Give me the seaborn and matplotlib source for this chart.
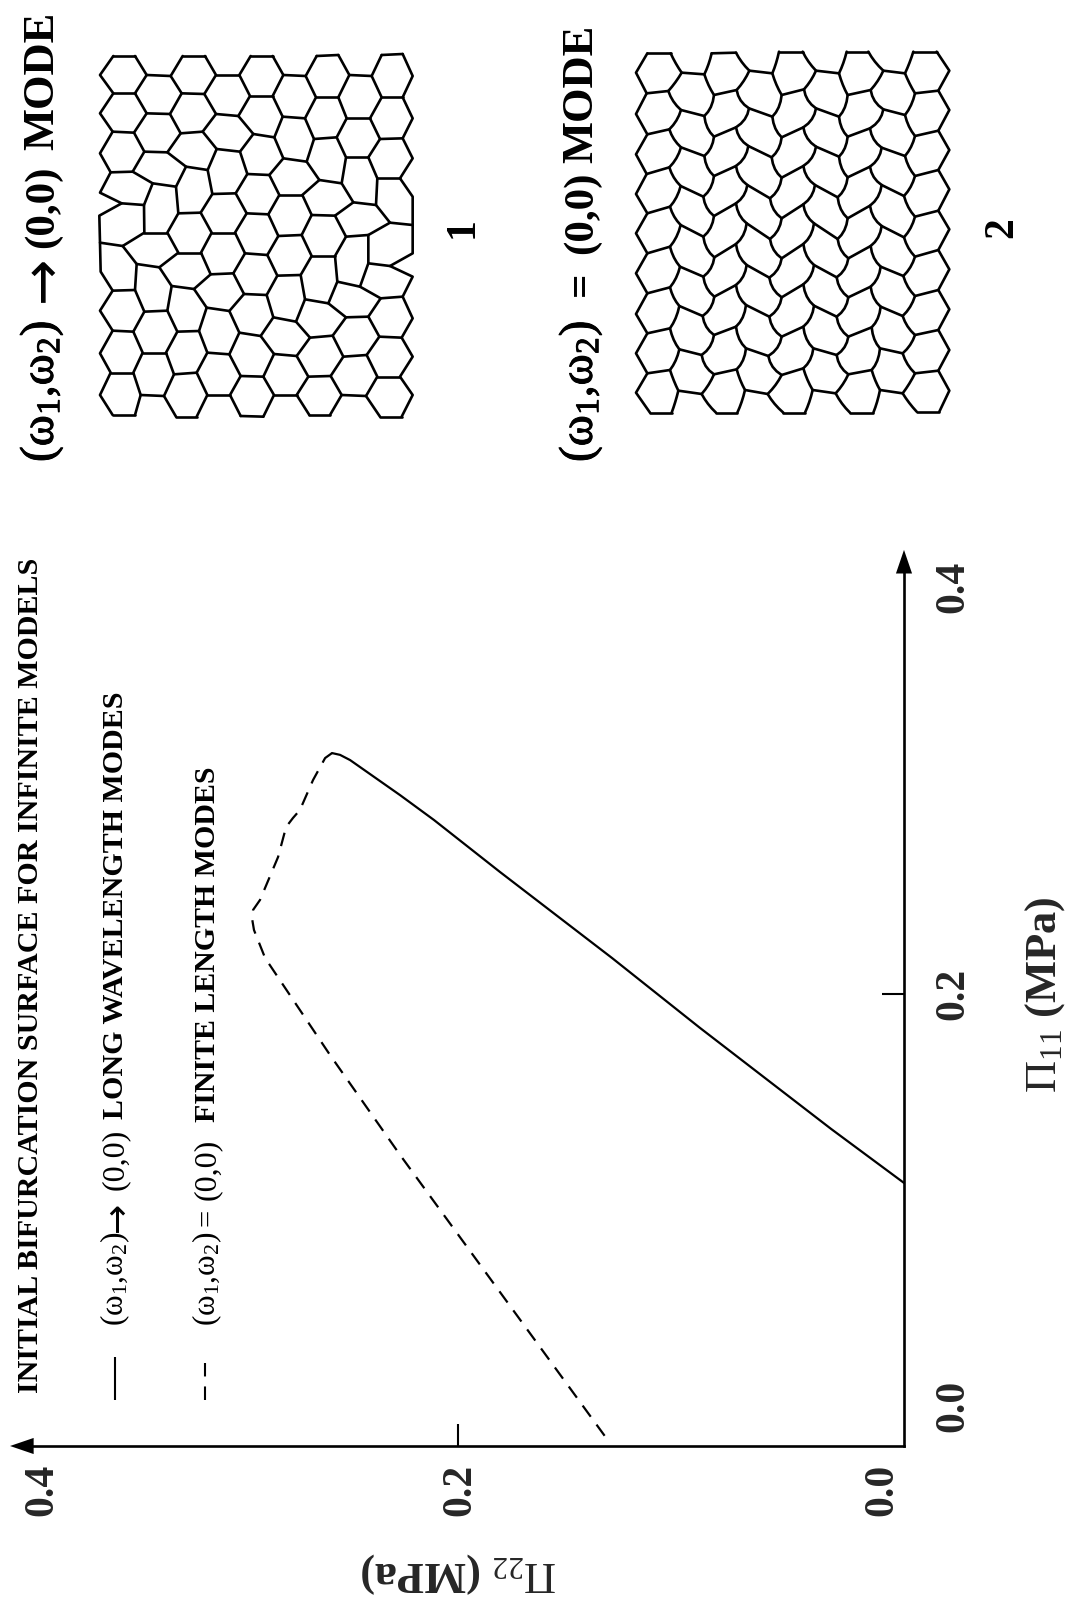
import matplotlib
matplotlib.use("Agg")
import matplotlib.pyplot as plt
import matplotlib.patheffects as pe
from matplotlib.transforms import ScaledTranslation
import numpy as np
import pandas as pd
import seaborn as sns

# ---------- curve values (MPa) ----------
solid_pi22 = [0.0000, 0.0327, 0.0915, 0.1309, 0.1812, 0.2108, 0.2260, 0.2484, 0.2529, 0.2565]
solid_pi11 = [0.1164, 0.1403, 0.1850, 0.2159, 0.2540, 0.2770, 0.2880, 0.3035, 0.3058, 0.3066]
dash_pi22 = [0.2565, 0.2596, 0.2650, 0.2709, 0.2740, 0.2771, 0.2807, 0.2888, 0.2919, 0.2924, 0.2915, 0.2865, 0.2574, 0.2260, 0.1332]
dash_pi11 = [0.3066, 0.3044, 0.2947, 0.2814, 0.2779, 0.2739, 0.2606, 0.2416, 0.2372, 0.2336, 0.2283, 0.2159, 0.1730, 0.1288, 0.0031]

axis_ticks = [0.0, 0.2, 0.4]
axis_tick_labels = ["0.0", "0.2", "0.4"]

# ---------- cell mesh: vertical zigzag chains of vertices ----------
mesh1_chains = [
 [(70,48),(30,105),(70,160),(30,220),(68,275),(30,340),(62,397),(30,458),(95,490),(28,527),(30,608),(32,695),(68,752),(30,812),(68,872),(30,940),(62,998),(30,1065),(68,1125)],
 [(135,48),(170,105),(135,160),(170,220),(132,278),(163,335),(128,395),(188,430),(162,495),(163,578),(98,618),(140,672),(135,750),(163,815),(130,875),(158,938),(130,998),(152,1065),(135,1125)],
 [(278,48),(242,108),(275,160),(240,222),(272,280),(232,337),(288,380),(258,440),(265,520),(232,578),(265,638),(208,682),(245,738),(232,812),(262,875),(228,938),(252,1003),(222,1068),(258,1130)],
 [(345,48),(378,105),(343,162),(378,222),(338,275),(380,327),(353,390),(367,462),(332,518),(365,578),(333,638),(362,703),(312,747),(350,803),(327,873),(352,938),(320,998),(352,1065),(320,1130)],
 [(482,48),(448,105),(480,168),(445,228),(490,282),(450,335),(472,402),(437,460),(470,520),(435,578),(465,640),(430,700),(462,762),(418,813),(448,878),(418,943),(452,1008),(420,1065),(452,1128)],
 [(548,48),(580,105),(548,168),(578,230),(553,292),(580,355),(538,405),(568,465),(535,523),(565,588),(532,645),(562,707),(530,765),(550,832),(512,888),(552,942),(520,1010),(552,1065),(520,1130)],
 [(680,48),(647,108),(678,172),(645,235),(672,297),(650,365),(688,420),(637,465),(665,525),(635,585),(665,648),(632,705),(645,778),(618,845),(660,893),(620,948),(655,1010),(620,1065),(658,1125)],
 [(745,45),(778,105),(745,172),(770,235),(740,292),(768,352),(755,430),(790,487),(735,527),(768,590),(735,648),(742,725),(715,790),(768,832),(728,887),(760,950),(722,1008),(755,1065),(720,1125)],
 [(875,45),(845,108),(875,172),(840,235),(870,297),(835,352),(862,415),(858,495),(900,548),(835,585),(835,670),(810,740),(872,775),(835,830),(868,890),(830,945),(862,1010),(828,1068),(870,1130)],
 [(938,42),(968,108),(938,172),(968,235),(938,295),(968,355),(930,415),(968,470),(968,555),(968,640),(900,678),(968,710),(938,770),(968,835),(935,893),(968,950),(930,1010),(968,1065),(935,1130)],
]
mesh2_chains = [
 [(112,40),(78,98),(110,160),(78,222),(112,283),(78,343),(110,402),(78,462),(112,520),(78,580),(112,640),(78,700),(112,760),(78,822),(112,880),(78,940),(112,1000),(78,1058),(120,1118)],
 [(182,40),(215,98),(175,153),(213,210),(178,268),(213,322),(178,382),(212,438),(180,500),(212,555),(180,620),(210,680),(180,742),(208,798),(180,865),(208,928),(180,990),(205,1052),(185,1118)],
 [(305,40),(283,103),(312,165),(283,228),(312,290),(283,348),(312,408),(280,470),(312,528),(280,590),(313,652),(280,710),(313,770),(278,828),(312,885),(275,945),(312,1003),(275,1062),(318,1118)],
 [(378,38),(418,92),(380,150),(417,205),(378,262),(415,318),(378,378),(412,435),(378,490),(410,550),(378,612),(410,675),(378,735),(408,795),(378,860),(408,925),(380,988),(405,1050),(382,1118)],
 [(507,35),(487,100),(515,165),(487,230),(515,292),(485,352),(515,413),(480,475),(515,535),(480,597),(515,655),(478,713),(515,772),(478,830),(515,890),(475,948),(515,1005),(473,1062),(520,1118)],
 [(578,35),(618,92),(582,148),(618,205),(580,262),(618,320),(580,378),(615,435),(580,493),(612,550),(580,612),(612,675),(580,733),(612,797),(580,860),(610,925),(580,985),(608,1050),(585,1118)],
 [(710,35),(687,100),(713,165),(687,230),(713,290),(687,350),(713,412),(683,472),(713,535),(683,597),(715,655),(680,712),(715,772),(680,830),(715,890),(680,945),(715,1003),(677,1060),(720,1118)],
 [(775,35),(820,92),(782,150),(820,208),(780,265),(815,323),(780,380),(815,435),(780,497),(815,558),(782,618),(812,680),(782,740),(812,800),(785,862),(810,925),(785,990),(810,1050),(790,1118)],
 [(910,35),(885,100),(915,160),(885,225),(915,288),(885,348),(915,408),(882,468),(915,530),(882,592),(915,650),(880,708),(915,768),(878,828),(915,885),(878,940),(915,1000),(878,1060),(920,1115)],
 [(980,35),(1018,92),(985,152),(1018,210),(985,272),(1018,330),(985,390),(1018,448),(985,512),(1018,568),(985,630),(1018,688),(985,750),(1018,808),(985,870),(1018,930),(985,992),(1018,1052),(988,1115)],
]

W, H = 1071, 1604
sns.set_theme(style="white")
plt.rcParams.update({
    "font.family": ["Liberation Serif", "DejaVu Sans"],
    "mathtext.fontset": "custom",
    "mathtext.rm": "Liberation Serif",
    "mathtext.it": "Liberation Serif:italic",
    "mathtext.bf": "Liberation Serif:bold",
    "mathtext.default": "regular",
    "axes.edgecolor": "black",
    "text.color": "black",
})

fig = plt.figure(figsize=(W / 100, H / 100), dpi=100, facecolor="white")

def rect(x0, y0, x1, y1):
    return [x0 / W, 1 - y1 / H, (x1 - x0) / W, (y1 - y0) / H]

def px(dx, dy):
    return ScaledTranslation(dx / 100, -dy / 100, fig.dpi_scale_trans)

# ---------- main chart: page x is Pi22 (reversed), page y is Pi11 ----------
ax = fig.add_axes(rect(0, 530, 904, 1446))
ax.set_xlim(0.4054, 0)
ax.set_ylim(0, 0.4053)
ax.patch.set_alpha(0)
sns.lineplot(x=solid_pi22, y=solid_pi11, sort=False, estimator=None, color="black", lw=1.6, ax=ax)
sns.lineplot(x=dash_pi22, y=dash_pi11, sort=False, estimator=None, color="black", lw=1.6,
             linestyle=(0, (6.2, 4.4)), ax=ax)
for s in ("top", "left"):
    ax.spines[s].set_visible(False)
ax.spines["bottom"].set_linewidth(1.9)
ax.spines["right"].set_linewidth(1.9)
ax.spines["bottom"].set_bounds(0, 0.395)
ax.spines["right"].set_bounds(0, 0.39)
ax.yaxis.tick_right()
ax.set_xticks(axis_ticks, axis_tick_labels, rotation=90, ha="center", va="top",
              fontsize=30, fontweight="bold")
ax.set_yticks(axis_ticks, axis_tick_labels, rotation=90, ha="left", va="center",
              fontsize=30, fontweight="bold")
ax.tick_params(axis="x", direction="in", length=16, width=1.5, pad=13, bottom=True, color="black")
ax.tick_params(axis="y", direction="in", length=16, width=1.5, pad=22, right=True, left=False, color="black")
for axis_obj in (ax.xaxis, ax.yaxis):
    ticks = axis_obj.get_major_ticks()
    for i in (0, 2):
        ticks[i].tick1line.set_visible(False)
        ticks[i].tick2line.set_visible(False)
xl = ax.get_xticklabels()
xl[0].set_transform(xl[0].get_transform() + px(-22, 0))
xl[1].set_transform(xl[1].get_transform() + px(2, 0))
xl[2].set_transform(xl[2].get_transform() + px(30, 0))
yl = ax.get_yticklabels()
yl[0].set_transform(yl[0].get_transform() + px(0, -40))
yl[2].set_transform(yl[2].get_transform() + px(0, 45))

arrow = dict(arrowstyle="-|>,head_length=17,head_width=5.8", color="black", lw=0,
             shrinkA=0, shrinkB=0, mutation_scale=1)
ax.annotate("", xy=(0.4009, 0), xytext=(0.39, 0), arrowprops=arrow, annotation_clip=False)
ax.annotate("", xy=(0, 0.3965), xytext=(0, 0.385), arrowprops=arrow, annotation_clip=False)

ax.set_xlabel(r"$\Pi_{22}\ \mathbf{(MPa)}$", rotation=180, fontsize=32, ha="center", va="center")
ax.xaxis.set_label_coords(459 / W, 1 - 1573 / H, transform=fig.transFigure)
ax.yaxis.set_label_position("right")
ax.set_ylabel(r"$\Pi_{11}\ \mathbf{(MPa)}$", rotation=90, fontsize=32, ha="center", va="center")
ax.yaxis.set_label_coords(1045 / W, 1 - 995 / H, transform=fig.transFigure)

def rot_text(x, y, s, size, weight="normal", stroke=0.0, family=None):
    t = fig.text(x / W, 1 - y / H, s, rotation=90, rotation_mode="anchor", ha="left", va="baseline",
                 fontsize=size, fontweight=weight, color="black")
    if family:
        t.set_family(family)
    if stroke:
        t.set_path_effects([pe.withStroke(linewidth=stroke, foreground="black")])

rot_text(38, 1393, "INITIAL BIFURCATION SURFACE FOR INFINITE MODELS", 21.6, "bold")

# legend entries
rot_text(123, 1326, r"$(\omega_1{,}\omega_2)$", 22.5)
rot_text(128, 1232, "\u2192", 26, family="DejaVu Sans")
rot_text(123, 1190, "(0,0)", 23)
rot_text(123, 1119, "LONG WAVELENGTH MODES", 21.6, "bold")
rot_text(215, 1326, r"$(\omega_1{,}\omega_2)$", 22.5)
rot_text(215, 1226, "=", 22)
rot_text(215, 1200, "(0,0)", 23)
rot_text(215, 1122, "FINITE LENGTH MODES", 21.5, "bold")

# panel titles
rot_text(53, 462, r"$(\omega_1{,}\omega_2)$", 34, stroke=0.7)
rot_text(59, 302, "\u2192", 40, family="DejaVu Sans")
rot_text(53, 248, "(0,0)", 31, "bold")
rot_text(53, 150, "MODE", 32, "bold")
rot_text(592, 462, r"$(\omega_1{,}\omega_2)$", 34, stroke=0.7)
rot_text(592, 296, "=", 31, "bold")
rot_text(592, 254, "(0,0)", 31, "bold")
rot_text(592, 163, "MODE", 32, "bold")
rot_text(473, 238, "1", 30, "bold")
rot_text(1012, 238, "2", 30, "bold")

# legend keys drawn in their own small axes
key_vals = [0, 1]
for x0, y0, styl in ((115, 1357, "-"), (205, 1363, (0, (6.5, 4.8)))):
    kax = fig.add_axes(rect(x0 - 3, y0, x0 + 3, 1400))
    kax.set_xlim(-1, 1)
    kax.set_ylim(0, 1)
    kax.axis("off")
    sns.lineplot(x=[0, 0], y=key_vals, sort=False, estimator=None, color="black", lw=1.5,
                 linestyle=styl, ax=kax)

# ---------- mesh panels ----------
def bowed(c, strength):
    """Round a chain's edges: each leaves its upper vertex steeply, as in panel 2."""
    out = [c[0]]
    for i in range(len(c) - 1):
        p0, p1 = np.array(c[i], float), np.array(c[i + 1], float)
        s = strength if 2 <= i <= 15 else strength * 0.35
        mid = (p0 + p1) / 2
        ctrl = mid + s * (np.array([p0[0], p0[1] + 0.7 * (p1[1] - p0[1])]) - mid)
        for t in (0.25, 0.5, 0.75, 1.0):
            out.append(tuple((1 - t) ** 2 * p0 + 2 * t * (1 - t) * ctrl + t ** 2 * p1))
    return out

def mesh_frame(chains, curl):
    rows = []
    uid = 0
    for n, c in enumerate(chains):
        s = 0.0 if n in (0, len(chains) - 1) else (curl * 0.6 if n in (1, len(chains) - 2) else curl)
        for (xv, yv) in (bowed(c, s) if s else c):
            rows.append((uid, xv, yv))
        uid += 1
    for k in range(len(chains) - 1):
        for i in range(len(chains[k])):
            if (i + k) % 2 == 0:
                rows.append((uid, *chains[k][i]))
                rows.append((uid, *chains[k + 1][i]))
                uid += 1
    return pd.DataFrame(rows, columns=["edge", "x", "y"])

for (x0, y0, x1, y1), chains, curl in (((90, 40, 440, 420), mesh1_chains, 0.0),
                                       ((610, 40, 960, 420), mesh2_chains, 0.7)):
    m = fig.add_axes(rect(x0, y0, x1, y1))
    m.set_xlim(0, (x1 - x0) * 3)
    m.set_ylim((y1 - y0) * 3, 0)
    m.axis("off")
    sns.lineplot(data=mesh_frame(chains, curl), x="x", y="y", units="edge", estimator=None, sort=False,
                 color="black", lw=1.9, ax=m)

fig.savefig("out.png", dpi=100, facecolor="white")
